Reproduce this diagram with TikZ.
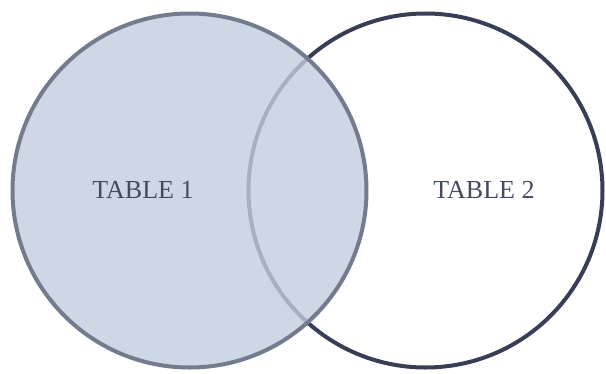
\documentclass[tikz,border=0pt]{standalone}
\usepackage{tikz}
\usepackage{xcolor}
\usepackage{fontspec}
\setmainfont{Liberation Serif}

\definecolor{setfill}{HTML}{C3CCE0}
\definecolor{leftrim}{HTML}{737B8F}
\definecolor{rightrim}{HTML}{373E56}
\definecolor{labelink}{HTML}{454B5E}

\begin{document}
\begin{tikzpicture}[x=1pt,y=-1pt,
  setring/.style={circle,minimum size=354pt,inner sep=0pt,outer sep=0pt,line width=4pt},
  setlabel/.style={font=\fontsize{26}{30}\selectfont,text=labelink}]
\useasboundingbox (0,0) rectangle (606,373);
\node[setring,draw=rightrim] (tabletwo) at (425.5,190.5) {};
\node[setring,fill=setfill,fill opacity=0.8] (tableone) at (189.5,190.5) {};
\node[setring,draw=leftrim] at (tableone.center) {};
\node[setlabel] (labelone) at (143,189.5) {TABLE 1};
\node[setlabel] (labeltwo) at (484,189.5) {TABLE 2};
\end{tikzpicture}
\end{document}
